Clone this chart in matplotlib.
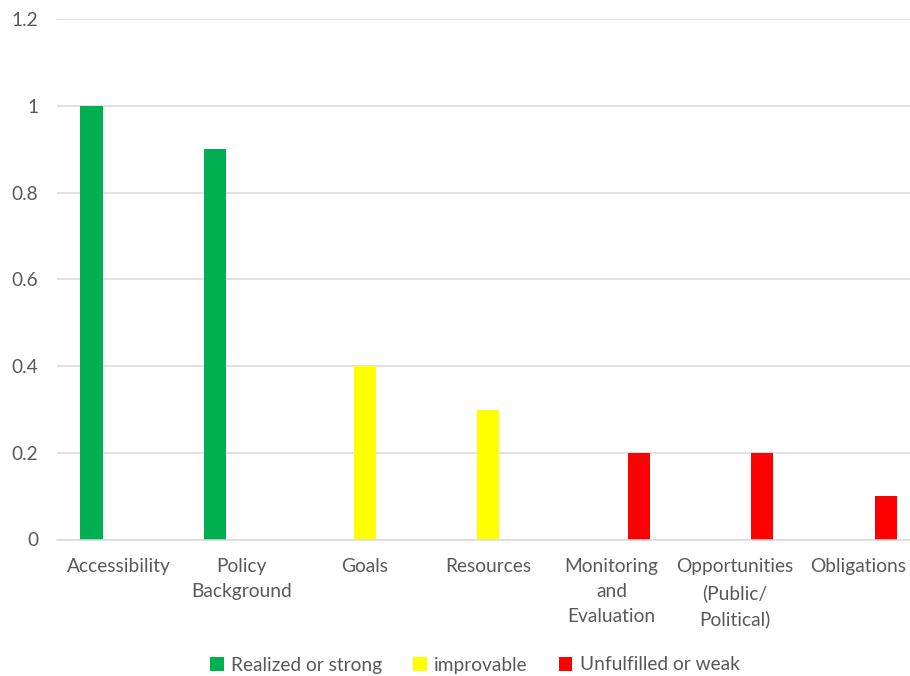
import numpy as np
import matplotlib.pyplot as plt

categories = ['Accessibility', 'Policy\nBackground', 'Goals', 'Resources',
              'Monitoring\nand\nEvaluation', 'Opportunities\n(Public/\nPolitical)',
              'Obligations']
strong = [1.0, 0.9, 0, 0, 0, 0, 0]
improvable = [0, 0, 0.4, 0.3, 0, 0, 0]
weak = [0, 0, 0, 0, 0.2, 0.2, 0.1]
series_names = ['Realized or strong', 'improvable', 'Unfulfilled or weak']
colors = ['#00B050', '#FFFF00', '#FF0000']

text_col = '#595959'
plt.rcParams['font.family'] = ['Lato', 'DejaVu Sans']

fig = plt.figure(figsize=(9.1, 6.76), dpi=100)
W, H = 910, 676
ax = fig.add_axes([57 / W, 136.5 / H, (919.5 - 57) / W, 520 / H])

x = np.arange(len(categories))
width = 0.18
offsets = [-0.22, 0.0, 0.225]
for vals, off, col, name in zip([strong, improvable, weak], offsets, colors, series_names):
    ax.bar(x + off, vals, width, color=col, label=name, zorder=3)

ax.set_xlim(-0.5, len(categories) - 0.5)
ax.set_ylim(0, 1.2)
ax.set_yticks([0, 0.2, 0.4, 0.6, 0.8, 1.0, 1.2])
ax.set_yticklabels(['0', '0.2', '0.4', '0.6', '0.8', '1', '1.2'])
ax.set_xticks(x)
ax.set_xticklabels(categories, linespacing=1.58, va='top')

ax.grid(axis='y', color='#D9D9D9', linewidth=1.1, zorder=0)
for s in ['top', 'right', 'left']:
    ax.spines[s].set_visible(False)
ax.spines['bottom'].set_color('#D9D9D9')
ax.spines['bottom'].set_linewidth(1.1)
ax.spines['bottom'].set_zorder(4)
ax.tick_params(axis='both', length=0, colors=text_col, labelsize=13.8)
ax.tick_params(axis='y', pad=13.5)
ax.tick_params(axis='x', pad=13.5)

leg = fig.legend(loc='center', bbox_to_anchor=(475 / W, 1 - 665 / H), ncol=3,
                 frameon=False, fontsize=13.8, handlelength=0.7, handleheight=0.7,
                 handletextpad=0.4, columnspacing=1.6)
for t in leg.get_texts():
    t.set_color(text_col)

fig.savefig('out.png', dpi=100)
